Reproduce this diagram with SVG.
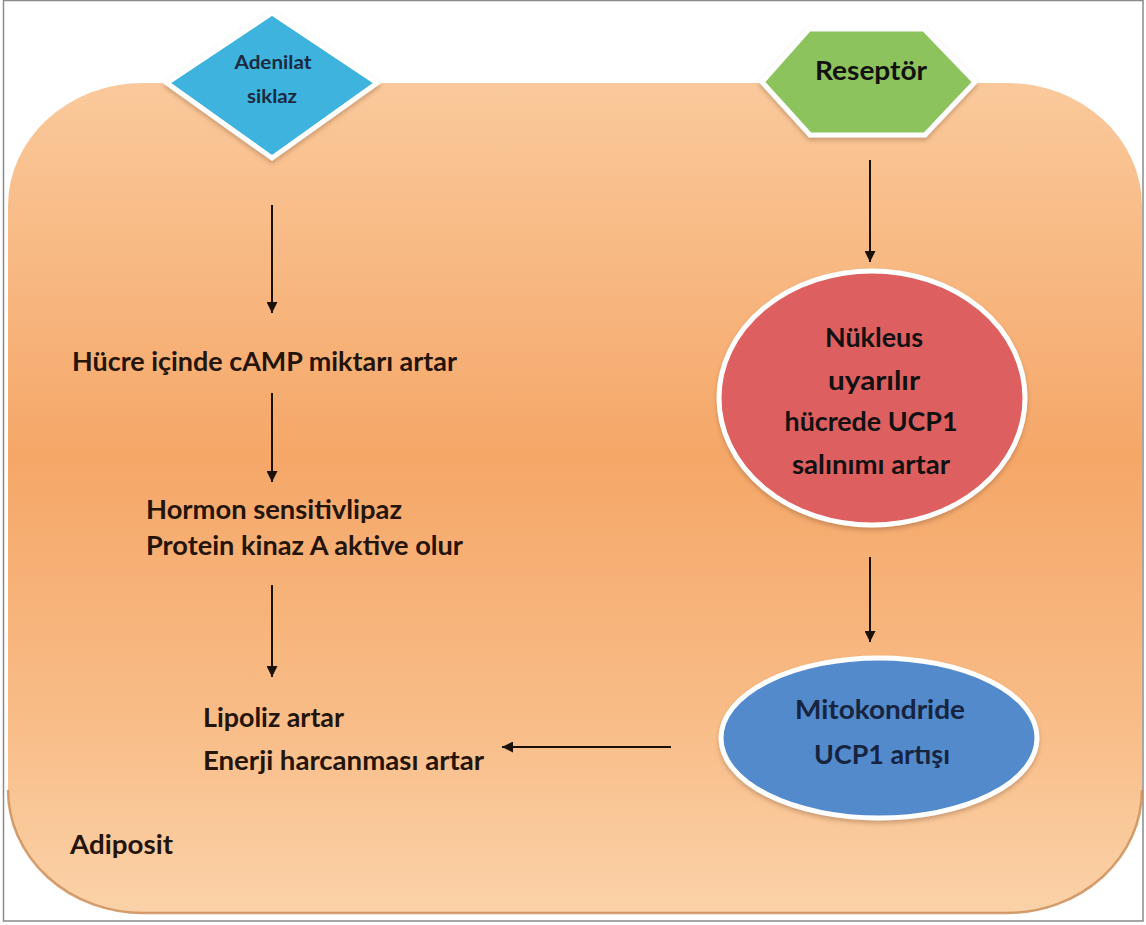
<svg xmlns="http://www.w3.org/2000/svg" width="1146" height="925" viewBox="0 0 1146 925">
<defs>
<linearGradient id="cellGrad" x1="0" y1="0" x2="0" y2="1">
<stop offset="0" stop-color="#fac99b"/>
<stop offset="0.45" stop-color="#f5a768"/>
<stop offset="0.75" stop-color="#f8bb85"/>
<stop offset="1" stop-color="#fbd2a8"/>
</linearGradient>
<filter id="sh" x="-10%" y="-10%" width="120%" height="130%">
<feDropShadow dx="0" dy="3" stdDeviation="2" flood-color="#7a5030" flood-opacity="0.35"/>
</filter>
<marker id="ah" viewBox="0 0 10 10" refX="10" refY="5" markerWidth="11" markerHeight="11" markerUnits="userSpaceOnUse" orient="auto">
<path d="M0,0 L10,5 L0,10 z" fill="#1a1208"/>
</marker>
<style>
.t{font-family:Lato,"Liberation Sans",sans-serif;font-weight:bold;font-size:26px;fill:#24140a}
.c{text-anchor:middle}
.d{font-family:Lato,"Liberation Sans",sans-serif;font-size:18px;font-weight:bold;fill:#1c2a40;text-anchor:middle}
.node{stroke:#ffffff;stroke-width:5;filter:url(#sh)}
.conn{stroke:#1a1208;stroke-width:2;fill:none;marker-end:url(#ah)}
</style>
</defs>
<rect x="0" y="0" width="1146" height="925" fill="#ffffff"/>
<rect x="3.5" y="0.5" width="1139.5" height="920.5" fill="none" stroke="#8a8a8a" stroke-width="1.5"/>
<g id="adiposit">
<rect x="8" y="83" width="1134" height="830" rx="135" ry="123" fill="url(#cellGrad)"/>
<path d="M8,790 A135,123 0 0 0 143,913 L1007,913 A135,123 0 0 0 1142,790" fill="none" stroke="#c98a52" stroke-width="2.5" opacity="0.8"/>
<text class="t" x="70" y="854" textLength="103" lengthAdjust="spacingAndGlyphs">Adiposit</text>
</g>
<g id="adenilat">
<path class="node" d="M272,13 L377,83 L272,158 L167,83 Z" fill="#3db3de"/>
<text class="d" x="273" y="69" textLength="77" lengthAdjust="spacingAndGlyphs">Adenilat</text>
<text class="d" x="272" y="103" textLength="50" lengthAdjust="spacingAndGlyphs">siklaz</text>
</g>
<g id="reseptor">
<path class="node" d="M809,29 L924,29 L975,82 L925,135 L810,135 L762,82 Z" fill="#8dc35c"/>
<text class="t c" x="871" y="80" style="fill:#111" textLength="112" lengthAdjust="spacingAndGlyphs">Reseptör</text>
</g>
<g id="camp">
<text class="t" x="72" y="371" textLength="385" lengthAdjust="spacingAndGlyphs">Hücre içinde cAMP miktarı artar</text>
</g>
<g id="pka">
<text class="t" x="146" y="519" textLength="256" lengthAdjust="spacingAndGlyphs">Hormon sensitivlipaz</text>
<text class="t" x="146" y="555" textLength="317" lengthAdjust="spacingAndGlyphs">Protein kinaz A aktive olur</text>
</g>
<g id="lipoliz">
<text class="t" x="203" y="727" textLength="141" lengthAdjust="spacingAndGlyphs">Lipoliz artar</text>
<text class="t" x="203" y="770" textLength="281" lengthAdjust="spacingAndGlyphs">Enerji harcanması artar</text>
</g>
<g id="nukleus">
<ellipse class="node" cx="872" cy="398" rx="153" ry="127" fill="#dd5f5f"/>
<text class="t c" x="874" y="347" style="fill:#111" textLength="98" lengthAdjust="spacingAndGlyphs">Nükleus</text>
<text class="t c" x="874" y="390" style="fill:#111" textLength="92" lengthAdjust="spacingAndGlyphs">uyarılır</text>
<text class="t c" x="871" y="431" style="fill:#111" textLength="173" lengthAdjust="spacingAndGlyphs">hücrede UCP1</text>
<text class="t c" x="871" y="474" style="fill:#111" textLength="158" lengthAdjust="spacingAndGlyphs">salınımı artar</text>
</g>
<g id="mitokondri">
<ellipse class="node" cx="879" cy="738" rx="158" ry="80" fill="#538acb"/>
<text class="t c" x="880" y="719" style="fill:#172440" textLength="170" lengthAdjust="spacingAndGlyphs">Mitokondride</text>
<text class="t c" x="882" y="764" style="fill:#172440" textLength="136" lengthAdjust="spacingAndGlyphs">UCP1 artışı</text>
</g>
<g id="connectors">
<line class="conn" x1="272" y1="205" x2="272" y2="313"/>
<line class="conn" x1="272" y1="393" x2="272" y2="482"/>
<line class="conn" x1="272" y1="585" x2="272" y2="677"/>
<line class="conn" x1="870" y1="160" x2="870" y2="262"/>
<line class="conn" x1="870" y1="557" x2="870" y2="642"/>
<line class="conn" x1="671" y1="747" x2="502" y2="747"/>
</g>
</svg>
